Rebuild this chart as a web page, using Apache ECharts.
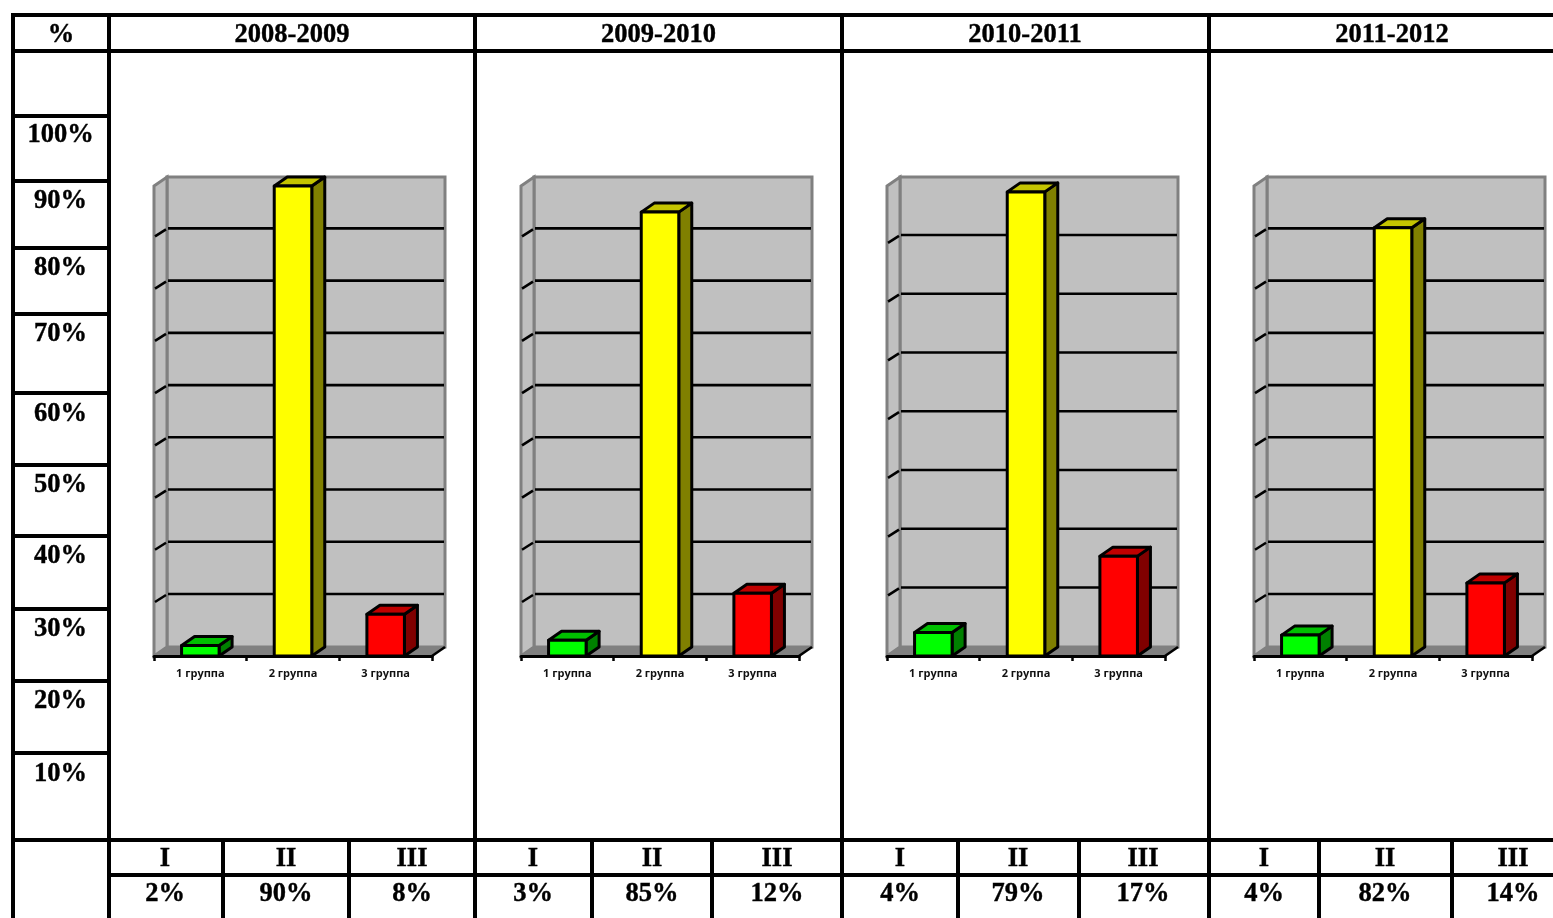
<!DOCTYPE html>
<html>
<head>
<meta charset="utf-8">
<style>html,body{margin:0;padding:0;background:#fff;overflow:hidden}#c{width:1553px;height:918px}</style>
<script src="https://cdn.jsdelivr.net/npm/echarts@6/dist/echarts.min.js"></script>
</head>
<body>
<div id="c"></div>
<script>
// ---- data ----
const periods = ['2008-2009', '2009-2010', '2010-2011', '2011-2012'];
const groups = ['1 группа', '2 группа', '3 группа'];
const romans = ['I', 'II', 'III'];
const values2008 = [2, 90, 8];
const values2009 = [3, 85, 12];
const values2010 = [4, 79, 17];
const values2011 = [4, 82, 14];
const scaleLabels = ['100%', '90%', '80%', '70%', '60%', '50%', '40%', '30%', '20%', '10%'];
const axisMax = [90, 90, 80, 90];

// ---- layout ----
const allValues = [values2008, values2009, values2010, values2011];
const W = 1553, H = 918;
const plotLeft = [154, 521, 887, 1254];
const plotW = 278, plotTop = 186, plotH = 470, DX = 13, DY = -9;
const mainV = [109, 475, 842, 1209];
const subV = [223, 349, 592, 712, 958, 1079, 1319, 1452];
const rowH = [116, 181, 248, 314, 393, 465, 536, 609, 681, 753];
const labelY = [135, 201, 268, 334, 414, 485, 556, 629, 701, 774];
const yearX = [292, 658.5, 1025, 1392];
const romanX = [165, 286, 412, 533, 652, 777, 900, 1018, 1143, 1264, 1385, 1513];
const pctX = [165, 286, 412, 533, 652, 777, 900, 1018, 1143, 1264, 1385, 1513];
const faces = [
  ['#00ff00', '#00c000', '#008000'],
  ['#ffff00', '#c4c400', '#808000'],
  ['#ff0000', '#c00000', '#800000']
];

// ---- table ----
const LW = 4;
function hl(x1, x2, y) { return { type: 'line', silent: true, shape: { x1, y1: y, x2, y2: y }, style: { stroke: '#000', lineWidth: LW } }; }
function vl(x, y1, y2) { return { type: 'line', silent: true, shape: { x1: x, y1, x2: x, y2 }, style: { stroke: '#000', lineWidth: LW } }; }
function tx(text, x, y) {
  return { type: 'text', silent: true, x, y, style: { text, fill: '#000', stroke: '#000', lineWidth: 0.4, align: 'center', verticalAlign: 'middle', font: 'bold 26.5px "Liberation Serif"' } };
}
const graphics = [
  hl(11, W, 15), hl(11, W, 51), hl(11, W, 840), hl(109, W, 875),
  vl(13, 13, H)
];
mainV.forEach(x => graphics.push(vl(x, 13, H)));
subV.forEach(x => graphics.push(vl(x, 840, H)));
rowH.forEach(y => graphics.push(hl(13, 109, y)));
graphics.push(tx('%', 61, 35));
periods.forEach((p, i) => graphics.push(tx(p, yearX[i], 35)));
scaleLabels.forEach((s, i) => graphics.push(tx(s, 60.5, labelY[i])));
allValues.forEach((vals, p) => vals.forEach((v, k) => {
  graphics.push(tx(romans[k], romanX[p * 3 + k], 859));
  graphics.push(tx(v + '%', pctX[p * 3 + k], 894));
}));

// ---- charts ----
const grid = [], xAxis = [], yAxis = [], series = [];
allValues.forEach((vals, i) => {
  grid.push({ left: plotLeft[i], top: plotTop, width: plotW, height: plotH, containLabel: false });
  xAxis.push({
    gridIndex: i, type: 'category', data: groups, z: 5,
    axisLine: { show: true, lineStyle: { color: '#000', width: 3 } },
    axisTick: { show: true, alignWithLabel: false, length: 5, lineStyle: { color: '#000', width: 2.5 } },
    axisLabel: { color: '#111', fontFamily: 'Open Sans', fontWeight: 'bold', fontSize: 11, margin: 12, interval: 0 }
  });
  yAxis.push({ gridIndex: i, type: 'value', min: 0, max: axisMax[i], interval: 10, show: false, splitLine: { show: false } });

  // chart walls, floor and gridlines
  series.push({
    type: 'custom', xAxisIndex: i, yAxisIndex: i, silent: true, z: 1, clip: false, animation: false,
    data: [[0, 0]],
    renderItem(params, api) {
      const c = params.coordSys, x0 = c.x, x1 = c.x + c.width, y0 = c.y, y1 = c.y + c.height;
      const kids = [];
      const grey = { stroke: '#808080', lineWidth: 3, lineJoin: 'miter' };
      kids.push({ type: 'polygon', shape: { points: [[x0 + DX, y0 + DY], [x1 + DX, y0 + DY], [x1 + DX, y1 + DY], [x0 + DX, y1 + DY]] }, style: { fill: '#c0c0c0', ...grey } });
      kids.push({ type: 'polygon', shape: { points: [[x0, y0], [x0 + DX, y0 + DY], [x0 + DX, y1 + DY], [x0, y1]] }, style: { fill: '#c0c0c0', ...grey } });
      for (let v = 10; v < axisMax[i]; v += 10) {
        const y = api.coord([0, v])[1] - 0.8;
        kids.push({ type: 'line', shape: { x1: x0 + DX + 1, y1: y + DY, x2: x1 + DX - 1, y2: y + DY }, style: { stroke: '#000', lineWidth: 2.6 } });
        kids.push({ type: 'line', shape: { x1: x0 + 1, y1: y - 1, x2: x0 + DX - 1, y2: y + DY + 1 }, style: { stroke: '#000', lineWidth: 2.6 } });
      }
      kids.push({ type: 'polygon', shape: { points: [[x0, y1], [x0 + DX, y1 + DY], [x1 + DX, y1 + DY], [x1, y1]] }, style: { fill: '#808080', stroke: '#808080', lineWidth: 1 } });
      kids.push({ type: 'line', shape: { x1, y1, x2: x1 + DX, y2: y1 + DY }, style: { stroke: '#000', lineWidth: 2.6 } });
      return { type: 'group', children: kids };
    }
  });

  // 3D bars
  series.push({
    type: 'custom', xAxisIndex: i, yAxisIndex: i, silent: true, z: 3, clip: false, animation: false,
    data: vals.map((v, k) => [k, v]),
    encode: { x: 0, y: 1 },
    renderItem(params, api) {
      const k = api.value(0), v = api.value(1);
      const top = api.coord([k, v]), base = api.coord([k, 0]);
      const bw = api.size([1, 0])[0] * 0.405;
      const l = top[0] - bw / 2, r = top[0] + bw / 2, t = top[1], b = base[1];
      const f = faces[k];
      const line = { stroke: '#000', lineWidth: 3, lineJoin: 'round' };
      return {
        type: 'group', children: [
          { type: 'polygon', shape: { points: [[r, t], [r + DX, t + DY], [r + DX, b + DY], [r, b]] }, style: { fill: f[2], ...line } },
          { type: 'polygon', shape: { points: [[l, t], [l + DX, t + DY], [r + DX, t + DY], [r, t]] }, style: { fill: f[1], ...line } },
          { type: 'polygon', shape: { points: [[l, t], [r, t], [r, b], [l, b]] }, style: { fill: f[0], ...line } }
        ]
      };
    }
  });
});

const chart = echarts.init(document.getElementById('c'), null, { width: W, height: H });
chart.setOption({
  animation: false, backgroundColor: '#fff',
  grid, xAxis, yAxis, series,
  graphic: { elements: graphics }
});
</script>
</body>
</html>
